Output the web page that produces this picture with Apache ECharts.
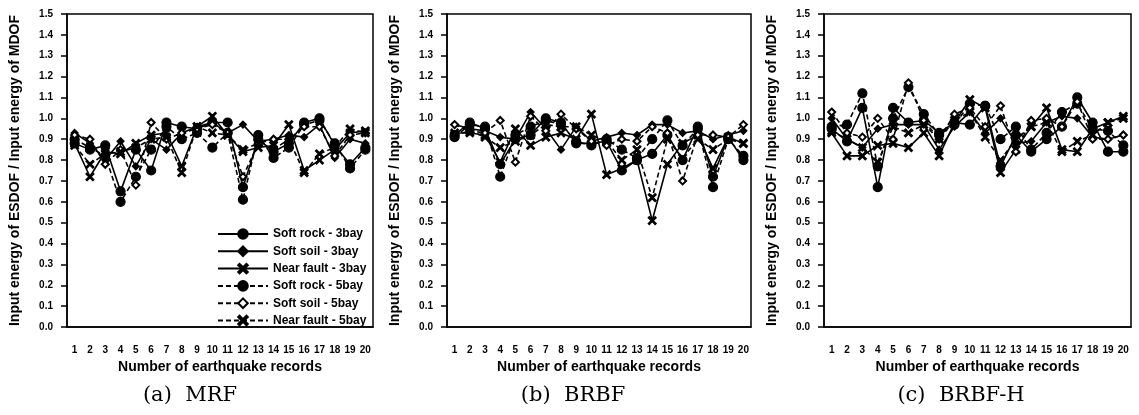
<!doctype html>
<meta charset="utf-8">
<style>
  html, body {
    margin: 0;
    height: 100%;
    background: #fff;
  }

  #chart {
    width: 1139px;
    height: 415px;
  }
</style>
<script src="https://cdn.jsdelivr.net/npm/echarts@6/dist/echarts.min.js"></script>

<div id="chart"></div>

<script>
  // record numbers on the x axis
  const records = ['1', '2', '3', '4', '5', '6', '7', '8', '9', '10', '11', '12', '13', '14', '15', '16', '17', '18', '19', '20']
  const seriesNames = ['Soft rock - 3bay', 'Soft soil - 3bay', 'Near fault - 3bay', 'Soft rock - 5bay', 'Soft soil - 5bay', 'Near fault - 5bay']
  const captions = ['(a)  MRF', '(b)  BRBF', '(c)  BRBF-H']

  // (a) MRF
  const mrfSoftRock3 = [0.88, 0.85, 0.87, 0.65, 0.85, 0.75, 0.98, 0.96, 0.95, 0.98, 0.98, 0.67, 0.90, 0.84, 0.88, 0.98, 1.00, 0.87, 0.78, 0.86]
  const mrfSoftSoil3 = [0.93, 0.88, 0.80, 0.89, 0.77, 0.90, 0.85, 0.93, 0.96, 0.98, 0.93, 0.97, 0.89, 0.90, 0.92, 0.91, 0.97, 0.81, 0.90, 0.88]
  const mrfNearFault3 = [0.88, 0.72, 0.84, 0.83, 0.88, 0.92, 0.93, 0.77, 0.96, 1.01, 0.92, 0.84, 0.86, 0.87, 0.97, 0.75, 0.80, 0.85, 0.93, 0.94]
  const mrfSoftRock5 = [0.90, 0.86, 0.82, 0.60, 0.72, 0.85, 0.96, 0.90, 0.93, 0.86, 0.93, 0.61, 0.92, 0.81, 0.86, 0.97, 0.99, 0.88, 0.76, 0.85]
  const mrfSoftSoil5 = [0.92, 0.90, 0.78, 0.85, 0.68, 0.98, 0.90, 0.93, 0.95, 0.97, 0.93, 0.72, 0.88, 0.90, 0.90, 0.96, 0.96, 0.82, 0.92, 0.93]
  const mrfNearFault5 = [0.87, 0.78, 0.83, 0.84, 0.86, 0.90, 0.91, 0.74, 0.96, 0.93, 0.92, 0.85, 0.88, 0.85, 0.90, 0.74, 0.83, 0.86, 0.95, 0.93]

  // (b) BRBF
  const brbfSoftRock3 = [0.92, 0.98, 0.95, 0.78, 0.90, 0.92, 1.00, 0.98, 0.88, 0.88, 0.89, 0.75, 0.80, 0.83, 0.92, 0.80, 0.96, 0.72, 0.91, 0.80]
  const brbfSoftSoil3 = [0.97, 0.95, 0.94, 0.91, 0.90, 1.03, 0.95, 0.85, 0.96, 0.89, 0.91, 0.93, 0.92, 0.97, 0.97, 0.93, 0.94, 0.90, 0.92, 0.94]
  const brbfNearFault3 = [0.93, 0.93, 0.92, 0.79, 0.95, 0.87, 0.91, 0.93, 0.90, 1.02, 0.73, 0.76, 0.80, 0.51, 0.78, 0.88, 0.92, 0.76, 0.91, 0.88]
  const brbfSoftRock5 = [0.91, 0.97, 0.96, 0.72, 0.92, 0.96, 0.99, 0.97, 0.89, 0.87, 0.90, 0.85, 0.81, 0.90, 0.99, 0.87, 0.95, 0.67, 0.90, 0.82]
  const brbfSoftSoil5 = [0.97, 0.94, 0.93, 0.99, 0.79, 1.01, 0.94, 1.02, 0.95, 0.89, 0.87, 0.90, 0.89, 0.96, 0.93, 0.70, 0.92, 0.92, 0.91, 0.97]
  const brbfNearFault5 = [0.92, 0.94, 0.91, 0.86, 0.89, 0.92, 0.97, 0.96, 0.96, 0.92, 0.89, 0.80, 0.85, 0.62, 0.90, 0.81, 0.90, 0.85, 0.90, 0.88]

  // (c) BRBF-H
  const brbfhSoftRock3 = [0.95, 0.89, 1.05, 0.67, 1.05, 0.98, 0.99, 0.93, 0.98, 0.97, 1.06, 0.77, 0.92, 0.84, 0.90, 0.96, 1.10, 0.98, 0.84, 0.84]
  const brbfhSoftSoil3 = [1.00, 0.90, 0.86, 0.95, 0.97, 0.97, 0.97, 0.85, 0.96, 1.03, 0.93, 1.00, 0.88, 0.89, 0.98, 1.01, 1.00, 0.91, 0.90, 0.92]
  const brbfhNearFault3 = [0.93, 0.82, 0.82, 0.87, 0.88, 0.86, 0.93, 0.82, 0.98, 1.09, 1.05, 0.74, 0.85, 0.96, 1.05, 0.85, 0.84, 0.95, 0.98, 1.01]
  const brbfhSoftRock5 = [0.96, 0.97, 1.12, 0.77, 1.00, 1.15, 1.02, 0.92, 0.97, 1.07, 1.06, 0.90, 0.96, 0.85, 0.93, 1.03, 1.07, 0.95, 0.94, 0.87]
  const brbfhSoftSoil5 = [1.03, 0.93, 0.91, 1.00, 0.90, 1.17, 0.99, 0.90, 1.02, 1.05, 0.96, 1.06, 0.84, 0.99, 1.00, 0.96, 1.08, 0.90, 0.90, 0.92]
  const brbfhNearFault5 = [0.94, 0.90, 0.86, 0.79, 0.96, 0.93, 0.97, 0.90, 0.99, 1.03, 0.91, 0.80, 0.90, 0.96, 0.98, 0.84, 0.89, 0.92, 0.98, 1.00]

  const panels = [
    [mrfSoftRock3, mrfSoftSoil3, mrfNearFault3, mrfSoftRock5, mrfSoftSoil5, mrfNearFault5],
    [brbfSoftRock3, brbfSoftSoil3, brbfNearFault3, brbfSoftRock5, brbfSoftSoil5, brbfNearFault5],
    [brbfhSoftRock3, brbfhSoftSoil3, brbfhNearFault3, brbfhSoftRock5, brbfhSoftSoil5, brbfhNearFault5],
  ]

  const CROSS = 'path://M0,1.4L1.4,0L5,3.6L8.6,0L10,1.4L6.4,5L10,8.6L8.6,10L5,6.4L1.4,10L0,8.6L3.6,5Z'
  const looks = [
    { symbol: 'circle', size: 9, dash: 'solid' },
    { symbol: 'diamond', size: 7, dash: 'solid' },
    { symbol: CROSS, size: 8, dash: 'solid' },
    { symbol: 'circle', size: 9, dash: [5, 3] },
    { symbol: 'emptyDiamond', size: 7, dash: [5, 3] },
    { symbol: CROSS, size: 8, dash: [5, 3] },
  ]

  const grids = [
    { left: 67, right: 766, top: 14, bottom: 88 },
    { left: 447, right: 388, top: 14, bottom: 88 },
    { left: 824, right: 8, top: 14, bottom: 88 },
  ]
  const captionX = [185, 568, 956]
  const font = 'Liberation Sans, Arial, sans-serif'

  let chart = echarts.init(document.getElementById('chart'))

  chart.setOption({
    animation: false,
    textStyle: { fontFamily: font },
    title: captions.map((t, i) => ({
      text: t,
      left: captionX[i],
      top: 380,
      textAlign: 'center',
      textStyle: {
        fontFamily: 'DejaVu Serif, Liberation Serif, serif',
        fontWeight: 'normal',
        fontSize: 21,
        color: '#000',
      },
    })),
    legend: {
      data: seriesNames,
      orient: 'vertical',
      left: 212,
      top: 223,
      itemWidth: 50,
      itemHeight: 12,
      itemGap: 5.3,
      textStyle: { fontWeight: 'bold', fontSize: 12, color: '#000', fontFamily: font },
    },
    grid: grids.map(g => Object.assign({ show: true, borderColor: '#000', borderWidth: 1.5 }, g)),
    xAxis: grids.map((g, i) => ({
      gridIndex: i,
      type: 'category',
      data: records,
      boundaryGap: true,
      name: 'Number of earthquake records',
      nameLocation: 'middle',
      nameGap: 31,
      nameTextStyle: { fontWeight: 'bold', fontSize: 14, color: '#000' },
      axisLine: { lineStyle: { color: '#000', width: 1.5 } },
      axisTick: { alignWithLabel: true, length: 9, lineStyle: { color: '#000', width: 1.5 } },
      axisLabel: { interval: 0, margin: 18, fontWeight: 'bold', fontSize: 10, color: '#000' },
    })),
    yAxis: grids.map((g, i) => ({
      gridIndex: i,
      type: 'value',
      min: 0,
      max: 1.5,
      interval: 0.1,
      name: 'Input energy of ESDOF / Input energy of MDOF',
      nameLocation: 'middle',
      nameRotate: 90,
      nameGap: 45,
      nameTextStyle: { fontWeight: 'bold', fontSize: 14, color: '#000' },
      splitLine: { show: false },
      axisLine: { show: true, lineStyle: { color: '#000', width: 1.5 } },
      axisTick: { show: true, length: 6, lineStyle: { color: '#000', width: 1.5 } },
      axisLabel: { margin: 14, fontWeight: 'bold', fontSize: 10, color: '#000', formatter: v => v.toFixed(1) },
    })),
    series: panels.flatMap((rows, p) => rows.map((vals, k) => ({
      type: 'line',
      name: seriesNames[k],
      xAxisIndex: p,
      yAxisIndex: p,
      data: vals,
      symbol: looks[k].symbol,
      symbolSize: looks[k].size,
      showAllSymbol: true,
      itemStyle: { color: '#000', borderColor: '#000', borderWidth: 1.2 },
      lineStyle: { color: '#000', width: 1.6, type: looks[k].dash },
    }))),
  })
</script>
